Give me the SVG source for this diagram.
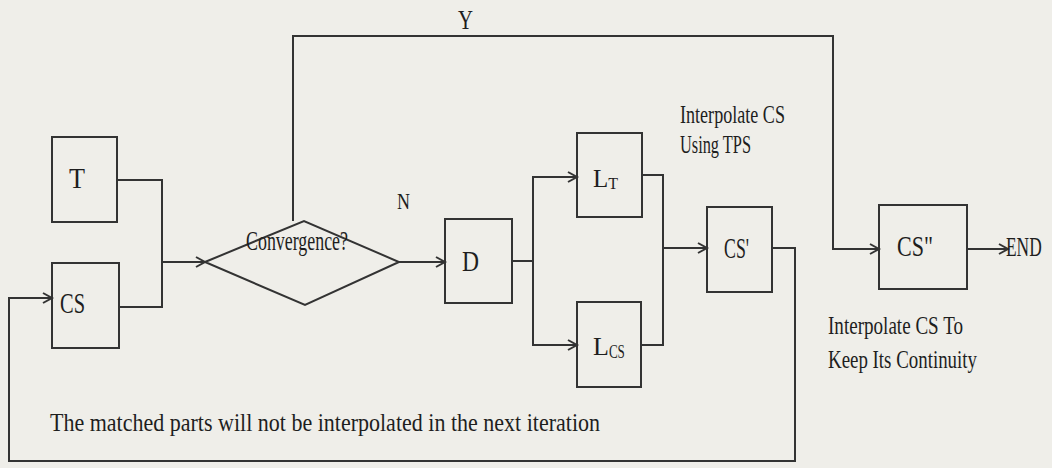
<svg xmlns="http://www.w3.org/2000/svg" width="1052" height="468" viewBox="0 0 1052 468">
<style>
.bx{fill:none;stroke:#333;stroke-width:2}
.ln{fill:none;stroke:#333;stroke-width:2}
.ar{marker-end:url(#ah)}
text{font-family:"Liberation Serif","Times New Roman",serif;fill:#1e1e1e}
.lb{font-size:30px}
.tx{font-size:26px}
</style>
<defs>
<marker id="ah" markerUnits="userSpaceOnUse" markerWidth="14" markerHeight="14" refX="11" refY="7" orient="auto" viewBox="0 0 14 14">
<path d="M2,2 L11,7 L2,12" fill="none" stroke="#333" stroke-width="2"/>
</marker>
</defs>
<rect width="1052" height="468" fill="#efeee9"/>

<g id="connectors">
<polyline class="ln" points="117,180 162,180 162,307 119,307"/>
<line class="ln ar" x1="162" y1="262" x2="205" y2="262"/>
<polyline class="ln ar" points="293,221 293,36 833,36 833,249 879,249"/>
<line class="ln ar" x1="399" y1="262" x2="445" y2="262"/>
<polyline class="ln" points="512,261 533,261"/>
<polyline class="ln ar" points="533,261 533,177 577,177"/>
<polyline class="ln ar" points="533,261 533,345 577,345"/>
<polyline class="ln" points="642,175 663,175 663,345 641,345"/>
<line class="ln ar" x1="663" y1="248" x2="707" y2="248"/>
<polyline class="ln ar" points="772,248 795,248 795,461 9,461 9,298 52,298"/>
<line class="ln ar" x1="967" y1="249" x2="1008" y2="249"/>
<text x="458" y="29" font-size="28" textLength="15" lengthAdjust="spacingAndGlyphs">Y</text>
<text x="397" y="209" font-size="24" textLength="13" lengthAdjust="spacingAndGlyphs">N</text>
</g>

<g id="node-T">
<rect class="bx" x="52" y="137" width="65" height="85"/>
<text class="lb" x="69" y="188" textLength="16" lengthAdjust="spacingAndGlyphs">T</text>
</g>
<g id="node-CS">
<rect class="bx" x="52" y="263" width="67" height="85"/>
<text class="lb" x="60" y="313" textLength="25" lengthAdjust="spacingAndGlyphs">CS</text>
</g>
<g id="node-convergence">
<polygon class="bx" points="205,262 304,221 399,262 305,305"/>
<text x="246" y="250" font-size="27" textLength="102" lengthAdjust="spacingAndGlyphs">Convergence?</text>
</g>
<g id="node-D">
<rect class="bx" x="445" y="219" width="67" height="84"/>
<text class="lb" x="462" y="271" textLength="17" lengthAdjust="spacingAndGlyphs">D</text>
</g>
<g id="node-LT">
<rect class="bx" x="577" y="133" width="65" height="84"/>
<text x="593" y="187" font-size="25">L<tspan font-size="16" dy="2">T</tspan></text>
</g>
<g id="node-LCS">
<rect class="bx" x="577" y="302" width="64" height="85"/>
<text x="593" y="355" font-size="26">L<tspan font-size="19" dy="3" textLength="16" lengthAdjust="spacingAndGlyphs">CS</tspan></text>
</g>
<g id="node-CSp">
<rect class="bx" x="707" y="207" width="65" height="85"/>
<text class="lb" x="724" y="258" textLength="25" lengthAdjust="spacingAndGlyphs">CS'</text>
</g>
<g id="node-CSpp">
<rect class="bx" x="879" y="205" width="88" height="84"/>
<text class="lb" x="897" y="256" textLength="36" lengthAdjust="spacingAndGlyphs">CS"</text>
</g>
<g id="node-END">
<text transform="translate(1006,256) scale(0.62,1)" font-size="28">END</text>
</g>

<g id="labels">
<text class="tx" x="680" y="123" textLength="105" lengthAdjust="spacingAndGlyphs">Interpolate CS</text>
<text class="tx" x="680" y="153" textLength="71" lengthAdjust="spacingAndGlyphs">Using TPS</text>
<text class="tx" x="828" y="334" textLength="135" lengthAdjust="spacingAndGlyphs">Interpolate CS To</text>
<text class="tx" x="828" y="368" textLength="149" lengthAdjust="spacingAndGlyphs">Keep Its Continuity</text>
<text class="tx" x="50" y="431" textLength="550" lengthAdjust="spacingAndGlyphs">The matched parts will not be interpolated in the next iteration</text>
</g>
</svg>
